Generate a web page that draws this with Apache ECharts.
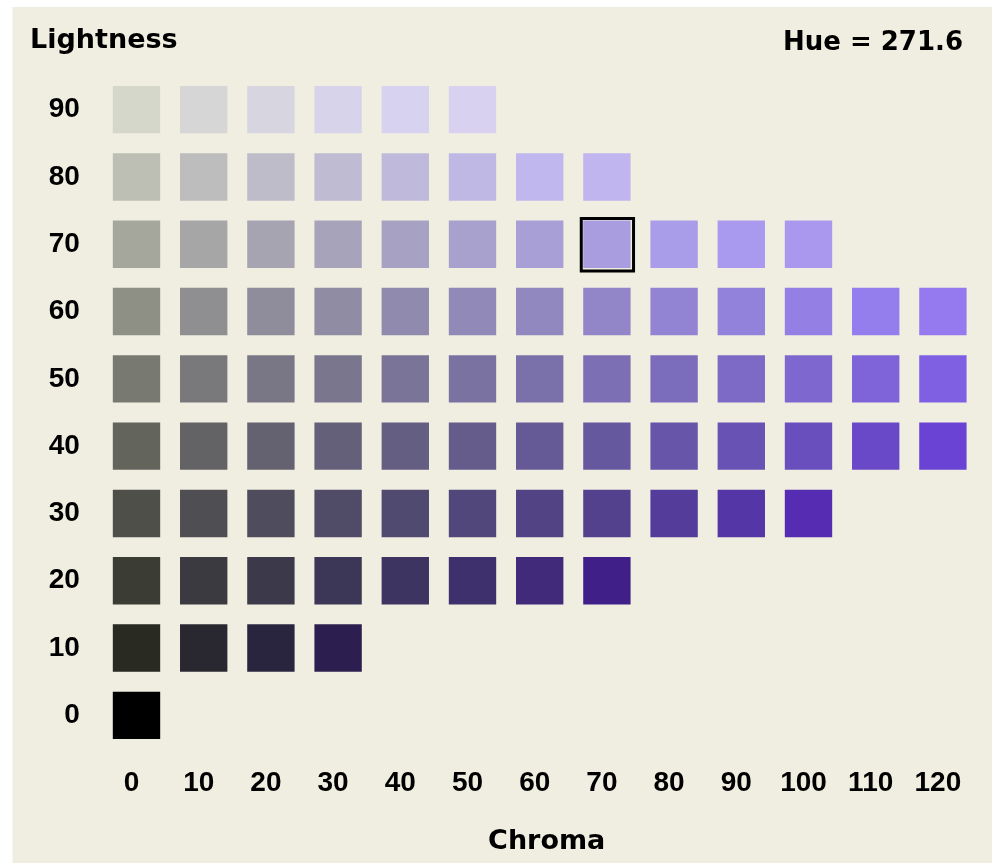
<!DOCTYPE html>
<html>
<head>
<meta charset="utf-8">
<script src="https://cdn.jsdelivr.net/npm/echarts@6/dist/echarts.min.js"></script>
<style>
  html, body { margin: 0; padding: 0; background: #ffffff; }
  #chart { width: 992px; height: 865px; }
</style>
</head>
<body>
<div id="chart"></div>
<script>
// Hue of the palette slice
const HUE = 271.6;
// Chroma columns (x axis) and lightness rows (y axis)
const chromaTicks = [0, 10, 20, 30, 40, 50, 60, 70, 80, 90, 100, 110, 120];
const lightnessTicks = [0, 10, 20, 30, 40, 50, 60, 70, 80, 90];
// Largest chroma that is still displayable at each lightness
const maxChroma = [0, 30, 70, 100, 120, 120, 120, 100, 70, 50];
// Currently selected colour (chroma, lightness)
const selectedChroma = 70;
const selectedLightness = 70;

// Polar CIELUV (HCL) -> sRGB, with the display's warm white shift and output levels
function hclToHex(h, c, l) {
  if (l <= 0) return '#000000';
  const hr = h * Math.PI / 180;
  const shift = 4 + 0.067 * l;
  const cc = c - shift;
  const u = cc * Math.cos(hr), v = cc * Math.sin(hr);
  const Y = l > 8 ? Math.pow((l + 16) / 116, 3) : l / 903.3;
  const un = 0.1978398, vn = 0.4683363;
  const up = u / (13 * l) + un, vp = v / (13 * l) + vn;
  const X = Y * 9 * up / (4 * vp);
  const Z = Y * (12 - 3 * up - 20 * vp) / (4 * vp);
  const lin = [
    3.2404542 * X - 1.5371385 * Y - 0.4985314 * Z,
    -0.9692660 * X + 1.8760108 * Y + 0.0415560 * Z,
    0.0556434 * X - 0.2040259 * Y + 1.0572252 * Z
  ];
  return '#' + lin.map(function (x) {
    x = Math.max(0, Math.min(1, x));
    const g = x <= 0.0031308 ? 12.92 * x : 1.055 * Math.pow(x, 1 / 2.4) - 0.055;
    const o = Math.max(0, Math.min(255, Math.round(17 + 0.87 * g * 255)));
    return (o < 16 ? '0' : '') + o.toString(16);
  }).join('');
}

// Cells: one per (chroma, lightness) pair inside the gamut
const cells = [];
lightnessTicks.forEach(function (l, li) {
  chromaTicks.forEach(function (c, ci) {
    if (c <= maxChroma[li]) {
      cells.push({ value: [ci, li], itemStyle: { color: hclToHex(HUE, c, l) } });
    }
  });
});

const chart = echarts.init(document.getElementById('chart'));
const digitFont = 'Liberation Sans';
const wordFont = 'DejaVu Sans';

chart.setOption({
  animation: false,
  backgroundColor: '#ffffff',
  graphic: [
    {
      type: 'rect', silent: true, z: -10,
      shape: { x: 12.5, y: 7, width: 992 - 12.5, height: 863 - 7 },
      style: { fill: '#F0EEE0' }
    },
    {
      type: 'text', left: 30, top: 27,
      style: { text: 'Lightness', font: 'bold 27px "' + wordFont + '"', fill: '#000' }
    },
    {
      type: 'text', right: 29, top: 30,
      style: { text: 'Hue = ' + HUE, font: 'bold 26px "' + wordFont + '"', fill: '#000' }
    }
  ],
  grid: { left: 102.9, right: 15.5, top: 76, bottom: 116 },
  xAxis: {
    type: 'category',
    data: chromaTicks.map(String),
    name: 'Chroma',
    nameLocation: 'middle',
    nameGap: 79,
    nameTextStyle: { fontFamily: wordFont, fontWeight: 'bold', fontSize: 27, color: '#000', padding: [0, 0, 0, 14] },
    axisLine: { show: false },
    axisTick: { show: false },
    splitLine: { show: false },
    axisLabel: {
      interval: 0, margin: 34, verticalAlign: 'middle',
      fontFamily: digitFont, fontWeight: 'bold', fontSize: 28, color: '#000',
      padding: [0, 10, 0, 0]
    }
  },
  yAxis: {
    type: 'category',
    data: lightnessTicks.map(String),
    axisLine: { show: false },
    axisTick: { show: false },
    splitLine: { show: false },
    axisLabel: {
      interval: 0, margin: 23, verticalAlign: 'middle',
      fontFamily: digitFont, fontWeight: 'bold', fontSize: 28, color: '#000',
      padding: [0, 0, 4, 0]
    }
  },
  series: [
    {
      type: 'custom',
      data: cells,
      renderItem: function (params, api) {
        const p = api.coord([api.value(0), api.value(1)]);
        const s = api.size([1, 1]);
        const w = s[0] * 0.705, h = s[1] * 0.705;
        return {
          type: 'rect',
          shape: { x: p[0] - w / 2, y: p[1] - h / 2, width: w, height: h },
          style: { fill: api.visual('color') }
        };
      }
    },
    {
      type: 'custom',
      z: 5,
      data: [[chromaTicks.indexOf(selectedChroma), lightnessTicks.indexOf(selectedLightness)]],
      renderItem: function (params, api) {
        const p = api.coord([api.value(0), api.value(1)]);
        const s = api.size([1, 1]);
        const w = s[0] * 0.778, h = s[1] * 0.778;
        return {
          type: 'rect',
          shape: { x: p[0] - w / 2 + 0.5, y: p[1] - h / 2 + 0.5, width: w, height: h },
          style: { fill: 'none', stroke: '#000', lineWidth: 3 }
        };
      }
    }
  ]
});
</script>
</body>
</html>
